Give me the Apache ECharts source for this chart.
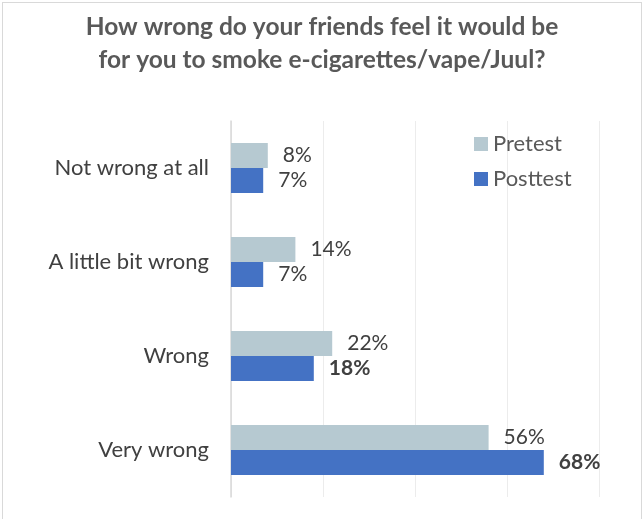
<!DOCTYPE html>
<html>
<head>
<meta charset="utf-8">
<script src="https://cdn.jsdelivr.net/npm/echarts@6/dist/echarts.min.js"></script>
<style>
  html, body { margin: 0; padding: 0; background: #fff; }
  #frame { position: absolute; left: 2px; top: 2px; width: 638px; height: 530px; border: 1px solid #d9d9d9; }
  #chart { position: absolute; left: 0; top: 0; width: 644px; height: 519px; }
</style>
</head>
<body>
<div id="frame"></div>
<div id="chart"></div>
<script>
  // categories, top to bottom
  var categories = ['Not wrong at all', 'A little bit wrong', 'Wrong', 'Very wrong']
  var pretest = [8, 14, 22, 56]
  var posttest = [7, 7, 18, 68]
  // posttest labels drawn in bold
  var posttestBold = [false, false, true, true]

  var myChart = echarts.init(document.getElementById('chart'))
  var font = 'Lato, "Open Sans", sans-serif'

  var option = {
    animation: false,
    title: {
      text: 'How wrong do your friends feel it would be\nfor you to smoke e-cigarettes/vape/Juul?',
      left: 'center',
      top: 6,
      textStyle: {
        fontFamily: font,
        fontSize: 24.5,
        fontWeight: 'bold',
        color: '#595959',
        lineHeight: 33
      }
    },
    legend: {
      orient: 'vertical',
      left: 469,
      top: 128,
      itemWidth: 14,
      itemHeight: 14,
      itemGap: 13,
      icon: 'rect',
      data: ['Pretest', 'Posttest'],
      textStyle: { fontFamily: font, fontSize: 22, color: '#595959' }
    },
    grid: { left: 231, right: 45, top: 121, bottom: 22 },
    xAxis: {
      type: 'value',
      min: 0,
      max: 80,
      interval: 20,
      axisLabel: { show: false },
      axisLine: { show: false },
      axisTick: { show: false },
      splitLine: { lineStyle: { color: '#ececec' } }
    },
    yAxis: {
      type: 'category',
      inverse: true,
      data: categories,
      axisLine: { lineStyle: { color: '#d9d9d9', width: 1.5 } },
      axisTick: { show: false },
      axisLabel: { fontFamily: font, fontSize: 22, color: '#404040', margin: 22 }
    },
    series: [
      {
        name: 'Pretest',
        type: 'bar',
        barWidth: 25,
        barGap: '0%',
        itemStyle: { color: '#b6c9d1' },
        label: {
          show: true,
          position: 'right',
          distance: 15,
          formatter: '{c}%',
          fontFamily: font,
          fontSize: 21,
          color: '#404040'
        },
        data: pretest
      },
      {
        name: 'Posttest',
        type: 'bar',
        barWidth: 25,
        barGap: '0%',
        itemStyle: { color: '#4472c4' },
        label: {
          show: true,
          position: 'right',
          distance: 15,
          formatter: '{c}%',
          fontFamily: font,
          fontSize: 21,
          color: '#404040'
        },
        data: posttest.map(function (v, i) {
          return {
            value: v,
            label: { fontWeight: posttestBold[i] ? 'bold' : 'normal' }
          }
        })
      }
    ]
  }
  myChart.setOption(option)
</script>
</body>
</html>
